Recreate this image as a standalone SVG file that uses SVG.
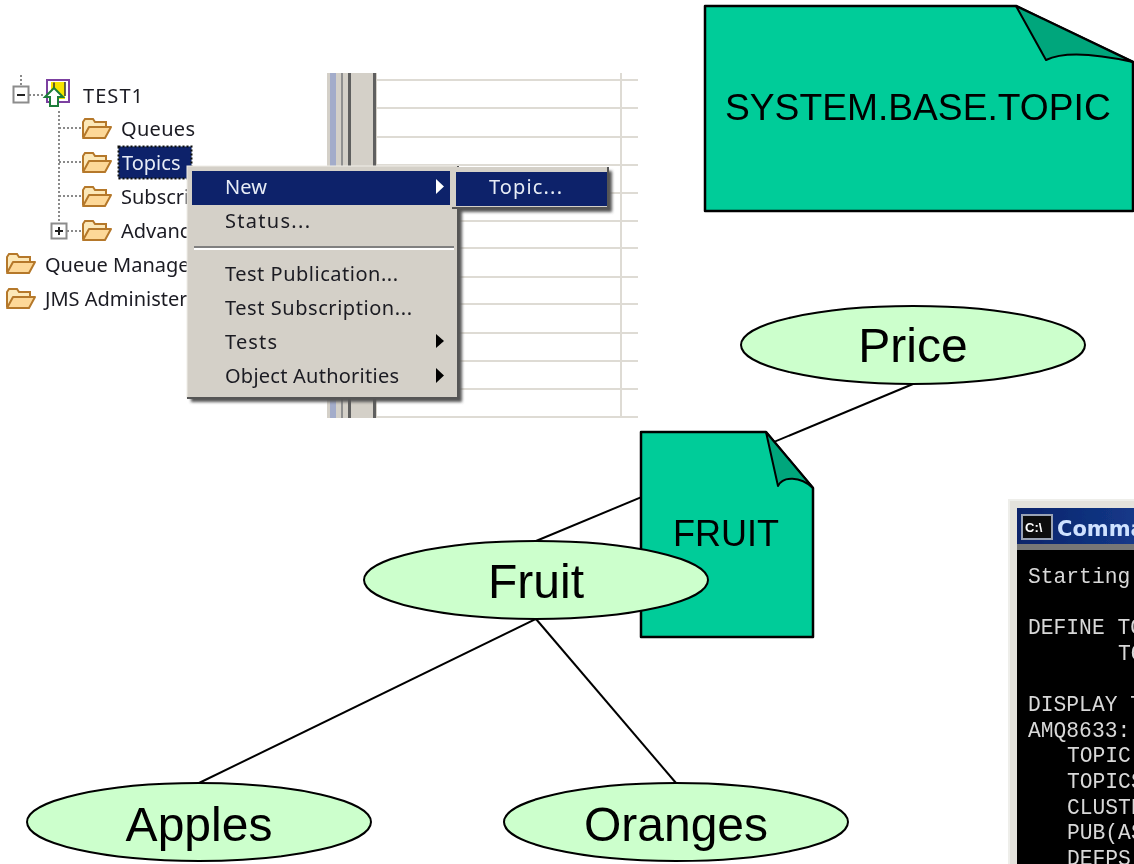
<svg xmlns="http://www.w3.org/2000/svg" width="1134" height="864" viewBox="0 0 1134 864">
<defs>
<style>
.lbl{font-family:"Liberation Sans",Arial,sans-serif;fill:#000}
.big{font-size:48px;text-anchor:middle}
.doc{font-size:36px}
.ell{fill:#ccffcc;stroke:#000;stroke-width:2}
.note{fill:#00cc99;stroke:#000;stroke-width:2.5;stroke-linejoin:round}
.fold{fill:#00a67c;stroke:#000;stroke-width:2;stroke-linejoin:round}
.conn{stroke:#000;stroke-width:2;fill:none}
.ui{font-family:"Noto Sans","Liberation Sans",sans-serif;font-size:20px;fill:#1a1a22}
.uiw{fill:#e8ecf6}
.grid{stroke:#dedbd4;stroke-width:2;fill:none}
.dot{stroke:#8a8a8a;stroke-width:2;stroke-dasharray:2 2;fill:none}
.mono{font-family:"Liberation Mono","DejaVu Sans Mono",monospace;font-size:21.3px;fill:#d8d8d8}
</style>
<filter id="soft" x="-5%" y="-5%" width="110%" height="110%"><feGaussianBlur stdDeviation="0.6"/></filter>
<filter id="shade" x="-10%" y="-10%" width="120%" height="120%"><feGaussianBlur stdDeviation="1.5"/></filter>
<linearGradient id="title" x1="0" x2="1" y1="0" y2="0"><stop offset="0" stop-color="#0a246a"/><stop offset="1" stop-color="#14398a"/></linearGradient>
<symbol id="folder" viewBox="0 0 30 22" width="30" height="22">
<path d="M1 19V4L3 1H11L13 4H24V8" fill="#fce8b8" stroke="#b5782a" stroke-width="2"/>
<path d="M1 20L7 9H29L23 20Z" fill="#fdd898" stroke="#b5782a" stroke-width="2" stroke-linejoin="round"/>
</symbol>
</defs>
<rect width="1134" height="864" fill="#fff"/>

<g id="screenshot-tree" filter="url(#soft)">
<g id="grid">
<path class="grid" d="M375 80H638M375 108H638M375 137H638M375 165H638M375 193H638M375 221H638M375 248H638M375 277H638M375 304H638M375 333H638M375 361H638M375 389H638M375 417H638M621 73V417"/>
<rect x="327" y="73" width="50" height="345" fill="#d4d0c8"/>
<rect x="330" y="73" width="6" height="345" fill="#a3acca"/>
<rect x="341" y="73" width="2" height="345" fill="#8f8f8f"/>
<rect x="348" y="73" width="3" height="345" fill="#5f5f5f"/>
<rect x="373" y="73" width="3" height="345" fill="#5f5f5f"/>
</g>
<path class="dot" d="M21 75V86M29 95H45M59 111V222M59 128H81M59 162H81M59 196H81M67 231H81"/>
<rect x="13.500" y="86.500" width="15" height="16" fill="#fff" stroke="#8c8c8c" stroke-width="2"/>
<path d="M17 95H25" stroke="#222" stroke-width="2"/>
<rect x="51.500" y="223.500" width="15" height="15" fill="#fff" stroke="#8c8c8c" stroke-width="2"/>
<path d="M55 231H63M59 227V235" stroke="#222" stroke-width="2"/>
<g id="test1-icon">
<rect x="47" y="80" width="22" height="22" fill="#fff" stroke="#7b3fa0" stroke-width="2"/>
<rect x="51" y="82" width="14" height="17" fill="#f7e300"/>
<path d="M54 82.500V90M65 82V96" stroke="#333" stroke-width="1.500"/>
<path d="M45 97L54 88L63 97H58V106H50V97Z" fill="#fff" stroke="#1c7d3a" stroke-width="2"/>
</g>
<use href="#folder" x="82" y="118"/>
<use href="#folder" x="82" y="152"/>
<use href="#folder" x="82" y="186"/>
<use href="#folder" x="82" y="220"/>
<use href="#folder" x="6" y="253"/>
<use href="#folder" x="6" y="288"/>
<text class="ui" x="83" y="103" textLength="60" lengthAdjust="spacing">TEST1</text>
<text class="ui" x="121" y="136" textLength="74" lengthAdjust="spacing">Queues</text>
<rect x="118.500" y="146.500" width="73" height="32" fill="#0a246a" stroke="#111" stroke-width="2" stroke-dasharray="2 2"/>
<text class="ui uiw" x="122" y="170">Topics</text>
<text class="ui" x="121" y="204">Subscri</text>
<text class="ui" x="121" y="238">Advanc</text>
<text class="ui" x="45" y="272">Queue Manage</text>
<text class="ui" x="45" y="306">JMS Administer</text>
</g>

<g id="context-menu" filter="url(#soft)">
<rect x="191" y="170" width="271" height="232" fill="#555" filter="url(#shade)"/>
<rect x="456" y="171" width="156" height="41" fill="#555" filter="url(#shade)"/>
<rect x="187" y="166" width="271" height="232" fill="#d4d0c8" stroke="#efede8" stroke-width="1"/>
<path d="M187 398H458V166" fill="none" stroke="#555" stroke-width="2"/>
<rect x="192" y="171" width="258" height="34" fill="#0a246a"/>
<path d="M194 247H454" stroke="#808080" stroke-width="2"/>
<path d="M194 249H454" stroke="#fff" stroke-width="2"/>
<text class="ui uiw" x="225" y="194" textLength="42" lengthAdjust="spacing">New</text>
<text class="ui" x="225" y="228" textLength="85" lengthAdjust="spacing">Status...</text>
<text class="ui" x="225" y="281" textLength="173" lengthAdjust="spacing">Test Publication...</text>
<text class="ui" x="225" y="315" textLength="187" lengthAdjust="spacing">Test Subscription...</text>
<text class="ui" x="225" y="349" textLength="52" lengthAdjust="spacing">Tests</text>
<text class="ui" x="225" y="383" textLength="174" lengthAdjust="spacing">Object Authorities</text>
<path d="M436 179L444 186.500L436 194Z" fill="#fff"/>
<path d="M436 334L444 341L436 348Z" fill="#000"/>
<path d="M436 368L444 375.500L436 383Z" fill="#000"/>
<rect x="452" y="167" width="156" height="41" fill="#d4d0c8"/>
<path d="M452 208H608V167" fill="none" stroke="#555" stroke-width="2"/>
<rect x="456" y="172" width="151" height="34" fill="#0a246a"/>
<text class="ui uiw" x="489" y="194" textLength="73" lengthAdjust="spacing">Topic...</text>
</g>

<g id="connectors">
<path class="conn" d="M913 384L536 541"/>
<path class="conn" d="M536 619L199 783"/>
<path class="conn" d="M536 619L676 783"/>
</g>

<g id="note-system-base-topic">
<path class="note" d="M705 6H1016L1133 62V211H705Z"/>
<path class="fold" d="M1016 6L1046 60Q1070 48 1133 62Z"/>
<text class="lbl" font-size="37.200" x="725" y="120">SYSTEM.BASE.TOPIC</text>
</g>
<g id="node-price">
<ellipse class="ell" cx="913" cy="345" rx="172" ry="39"/>
<text class="lbl big" x="913" y="362">Price</text>
</g>
<g id="note-fruit">
<path class="note" d="M641 432H766L813 488V637H641Z"/>
<path class="fold" d="M766 432L778 486C783 476 800 476 813 488Z"/>
<text class="lbl doc" x="673" y="546" font-size="36.500">FRUIT</text>
</g>
<g id="node-fruit">
<ellipse class="ell" cx="536" cy="580" rx="172" ry="39"/>
<text class="lbl big" x="536" y="598">Fruit</text>
</g>
<g id="node-apples">
<ellipse class="ell" cx="199" cy="822" rx="172" ry="39"/>
<text class="lbl big" x="199" y="841">Apples</text>
</g>
<g id="node-oranges">
<ellipse class="ell" cx="676" cy="822" rx="172" ry="39"/>
<text class="lbl big" x="676" y="841">Oranges</text>
</g>

<g id="terminal" filter="url(#soft)">
<rect x="1009" y="500" width="130" height="370" fill="#e4e2dc" stroke="#eeeeea" stroke-width="2"/>
<rect x="1017" y="508" width="122" height="36" fill="url(#title)"/>
<rect x="1017" y="544" width="122" height="6" fill="#777"/>
<rect x="1017" y="550" width="122" height="320" fill="#000"/>
<rect x="1022" y="515" width="30" height="24" fill="#111" stroke="#9aa3b5" stroke-width="2"/>
<text x="1025" y="532" font-family="Liberation Sans,sans-serif" font-size="13" font-weight="700" fill="#fff">C:\</text>
<text x="1057" y="536" font-family="DejaVu Sans,sans-serif" font-size="21" font-weight="700" fill="#cfe2ff">Comma</text>
<text class="mono" x="1028" y="583">Starting</text>
<text class="mono" x="1028" y="634">DEFINE TO</text>
<text class="mono" x="1118" y="660">TO</text>
<text class="mono" x="1028" y="711">DISPLAY T</text>
<text class="mono" x="1028" y="737">AMQ8633:</text>
<text class="mono" x="1067" y="762">TOPIC</text>
<text class="mono" x="1067" y="788">TOPICS</text>
<text class="mono" x="1067" y="814">CLUSTE</text>
<text class="mono" x="1067" y="839">PUB(AS</text>
<text class="mono" x="1067" y="865">DEFPS</text>
</g>
</svg>
